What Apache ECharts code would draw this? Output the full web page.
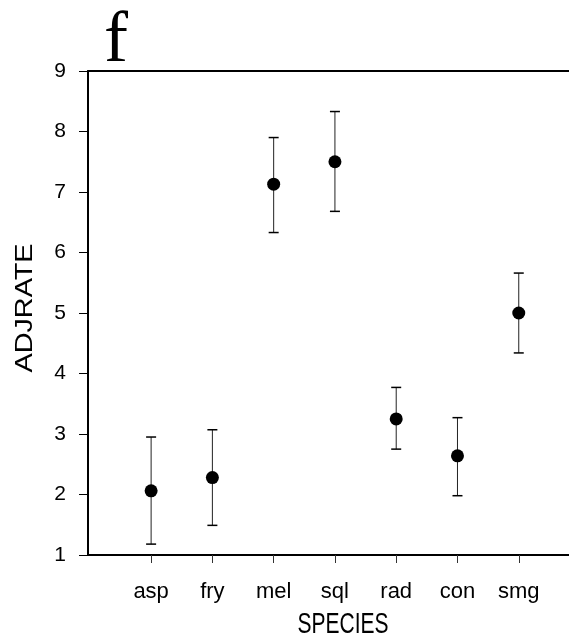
<!DOCTYPE html>
<html>
<head>
<meta charset="utf-8">
<script src="https://cdn.jsdelivr.net/npm/echarts@6/dist/echarts.min.js"></script>
<style>
  html, body { margin: 0; padding: 0; background: #fff; }
  #chart { width: 569px; height: 643px; }
</style>
</head>
<body>
<div id="chart"></div>
<script>
// Species along the x axis, in plotting order
const species = ['asp', 'fry', 'mel', 'sql', 'rad', 'con', 'smg'];
// Mean adjusted rate per species
const means = [2.06, 2.28, 7.13, 7.50, 3.25, 2.64, 5.00];
// Lower and upper ends of the error bars
const lower = [1.18, 1.49, 6.33, 6.68, 2.75, 1.98, 4.34];
const upper = [2.95, 3.07, 7.90, 8.33, 3.77, 3.27, 5.66];
// Axis titles and panel letter
const xTitle = 'SPECIES';
const yTitle = 'ADJRATE';
const panel = 'f';

const positions = species.map((_, i) => i + 1);
const font = 'Liberation Sans, Arial, sans-serif';

const chart = echarts.init(document.getElementById('chart'), null, { renderer: 'canvas' });

chart.setOption({
  animation: false,
  backgroundColor: '#fff',
  grid: { left: 88, right: 0, top: 71, bottom: 88 },
  graphic: [
    {
      type: 'text', left: 104, top: 6,
      style: { text: panel, font: '72px "Liberation Serif", "Times New Roman", serif', fill: '#000' }
    },
    {
      type: 'text', x: 343, y: 625, scaleY: 1.4,
      style: { text: xTitle, font: '21px "Liberation Sans", Arial, sans-serif', fill: '#000', align: 'center', verticalAlign: 'middle' }
    },
    {
      type: 'text', x: 25, y: 308, rotation: Math.PI / 2, scaleX: 1.2,
      style: { text: yTitle, font: '24px "Liberation Sans", Arial, sans-serif', fill: '#000', align: 'center', verticalAlign: 'middle' }
    }
  ],
  xAxis: [{
    type: 'value',
    min: -0.03,
    max: 7.82,
    splitLine: { show: false },
    axisLine: { show: true, onZero: false, lineStyle: { color: '#000', width: 2 } },
    axisTick: { show: true, customValues: positions, length: 8, lineStyle: { color: '#333', width: 1 } },
    axisLabel: {
      customValues: positions,
      margin: 26,
      fontFamily: font, fontSize: 22, color: '#000',
      formatter: v => species[Math.round(v) - 1] || ''
    }
  }, {
    type: 'value',
    position: 'top',
    min: -0.03,
    max: 7.82,
    splitLine: { show: false },
    axisLine: { show: true, onZero: false, lineStyle: { color: '#000', width: 2 } },
    axisTick: { show: false },
    axisLabel: { show: false }
  }],
  yAxis: {
    type: 'value',
    min: 1,
    max: 9,
    interval: 1,
    splitLine: { show: false },
    axisLine: { show: true, onZero: false, lineStyle: { color: '#000', width: 2 } },
    axisTick: { show: true, length: 9, lineStyle: { color: '#000', width: 1 } },
    axisLabel: { margin: 22, fontFamily: font, fontSize: 21, color: '#000' }
  },
  series: [{
    type: 'custom',
    name: 'error',
    data: positions.map((p, i) => [p, lower[i], upper[i]]),
    renderItem: (params, api) => {
      const x = api.value(0);
      const lo = api.coord([x, api.value(1)]);
      const hi = api.coord([x, api.value(2)]);
      const cap = 5;
      const capStyle = { stroke: '#000', lineWidth: 1.5 };
      return {
        type: 'group',
        children: [
          { type: 'line', shape: { x1: lo[0], y1: lo[1], x2: hi[0], y2: hi[1] }, style: { stroke: '#222', lineWidth: 1 } },
          { type: 'line', shape: { x1: lo[0] - cap, y1: lo[1], x2: lo[0] + cap, y2: lo[1] }, style: capStyle },
          { type: 'line', shape: { x1: hi[0] - cap, y1: hi[1], x2: hi[0] + cap, y2: hi[1] }, style: capStyle }
        ]
      };
    },
    z: 2
  }, {
    type: 'scatter',
    name: 'mean',
    data: positions.map((p, i) => [p, means[i]]),
    symbol: 'circle',
    symbolSize: 13,
    itemStyle: { color: '#000', opacity: 1 },
    z: 3
  }]
});
</script>
</body>
</html>
